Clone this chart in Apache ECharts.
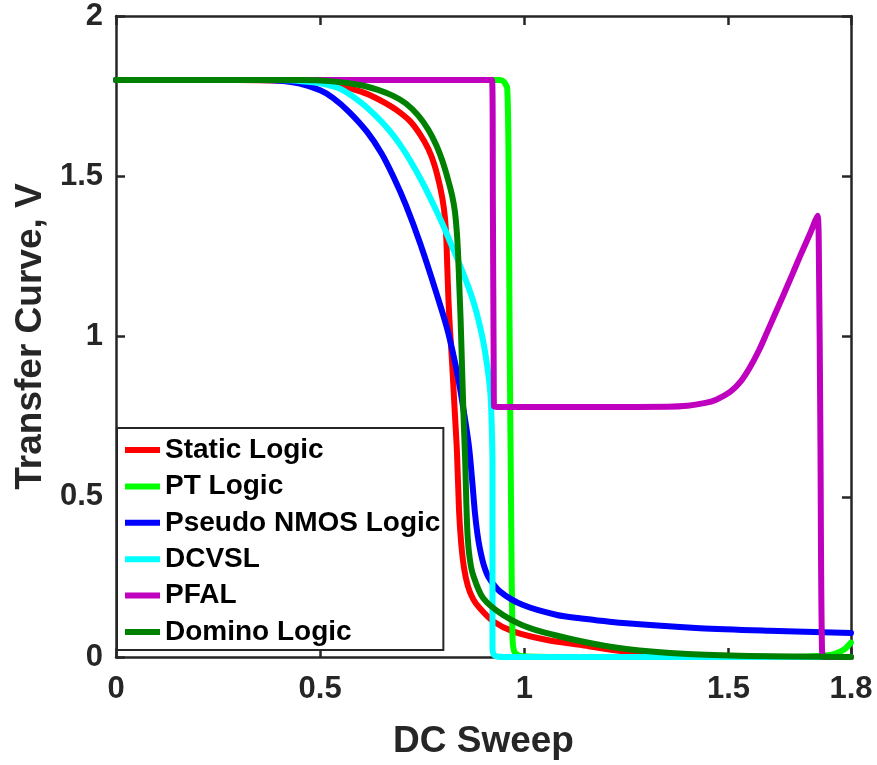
<!DOCTYPE html>
<html>
<head>
<meta charset="utf-8">
<script src="https://cdn.jsdelivr.net/npm/echarts@6/dist/echarts.min.js"></script>
<style>html,body{margin:0;padding:0;background:#fff;}#chart{width:877px;height:765px;}</style>
</head>
<body>
<div id="chart"></div>
<script>
// Series names
const seriesNames = ['Static Logic', 'PT Logic', 'Pseudo NMOS Logic', 'DCVSL', 'PFAL', 'Domino Logic'];

// Data as [DC sweep, transfer value] pairs
const staticLogic = [[0,1.8],[0.3,1.8],[0.4,1.799],[0.45,1.797],[0.5,1.792],[0.55,1.782],[0.6,1.764],[0.63,1.748],[0.66,1.728],[0.69,1.704],[0.72,1.672],[0.745,1.63],[0.765,1.585],[0.78,1.535],[0.794,1.465],[0.803,1.4],[0.808,1.33],[0.811,1.23],[0.814,1.12],[0.818,1.02],[0.823,0.92],[0.829,0.78],[0.835,0.64],[0.84,0.46],[0.845,0.36],[0.852,0.28],[0.862,0.22],[0.875,0.18],[0.891,0.152],[0.923,0.112],[0.972,0.08],[1.056,0.053],[1.136,0.038],[1.2,0.025],[1.3,0.01],[1.4,0.004],[1.5,0.001],[1.8,0]];
const ptLogic = [[0,1.8],[0.94,1.8],[0.95,1.795],[0.958,1.775],[0.961,1.6],[0.964,1.0],[0.968,0.4],[0.971,0.06],[0.976,0.015],[0.99,0.003],[1.1,0],[1.65,0],[1.72,0.003],[1.76,0.01],[1.785,0.025],[1.8,0.045]];
const pseudoNmos = [[0,1.8],[0.35,1.8],[0.4,1.798],[0.45,1.789],[0.5,1.768],[0.532,1.744],[0.57,1.702],[0.614,1.64],[0.65,1.572],[0.68,1.497],[0.71,1.41],[0.745,1.29],[0.786,1.13],[0.813,1.015],[0.838,0.87],[0.855,0.74],[0.865,0.65],[0.873,0.54],[0.879,0.45],[0.885,0.385],[0.891,0.339],[0.9,0.29],[0.912,0.25],[0.94,0.205],[0.997,0.162],[1.08,0.131],[1.136,0.121],[1.25,0.105],[1.43,0.09],[1.6,0.082],[1.8,0.075]];
const dcvsl = [[0,1.8],[0.4,1.8],[0.45,1.797],[0.5,1.79],[0.55,1.772],[0.6,1.73],[0.64,1.684],[0.67,1.642],[0.696,1.598],[0.72,1.55],[0.75,1.482],[0.78,1.405],[0.8,1.35],[0.82,1.29],[0.84,1.23],[0.86,1.165],[0.875,1.11],[0.888,1.05],[0.9,0.98],[0.91,0.9],[0.917,0.82],[0.92,0.73],[0.922,0.6],[0.922,0.3],[0.922,0.03],[0.927,0.005],[0.95,0],[1.8,0]];
const pfal = [[0,1.8],[0.921,1.8],[0.923,1.4],[0.925,0.9],[0.926,0.781],[0.95,0.78],[1.2,0.78],[1.35,0.781],[1.4,0.784],[1.44,0.792],[1.47,0.803],[1.504,0.827],[1.53,0.86],[1.553,0.905],[1.575,0.958],[1.594,1.012],[1.614,1.07],[1.634,1.128],[1.655,1.19],[1.675,1.25],[1.7,1.322],[1.712,1.36],[1.718,1.377],[1.721,1.3],[1.725,0.7],[1.729,0.02],[1.735,0],[1.8,0]];
const dominoLogic = [[0,1.8],[0.45,1.8],[0.53,1.796],[0.6,1.784],[0.64,1.77],[0.68,1.75],[0.71,1.727],[0.74,1.69],[0.765,1.645],[0.785,1.595],[0.8,1.545],[0.813,1.49],[0.823,1.44],[0.83,1.39],[0.835,1.32],[0.838,1.25],[0.841,1.15],[0.844,1.05],[0.848,0.88],[0.852,0.72],[0.855,0.62],[0.858,0.48],[0.861,0.38],[0.866,0.31],[0.874,0.258],[0.899,0.184],[0.948,0.131],[1.014,0.09],[1.136,0.05],[1.25,0.025],[1.4,0.009],[1.55,0.003],[1.8,0]];

const seriesData = [staticLogic, ptLogic, pseudoNmos, dcvsl, pfal, dominoLogic];
const seriesColors = ['#ff0000', '#00ff00', '#0000ff', '#00ffff', '#bf00bf', '#008000'];
const seriesSmooth = [0.3, 0.2, 0.3, 0.3, 0.3, 0.3];

// Axis settings
const xMin = 0, xMax = 1.8, xInterval = 0.5;
const yMin = 0, yMax = 2, yInterval = 0.5;
const xTitle = 'DC Sweep';
const yTitle = 'Transfer Curve, V';

const axisColor = '#262626';
const fontFam = '"Liberation Sans", Arial, sans-serif';

const chart = echarts.init(document.getElementById('chart'), null, {renderer: 'canvas'});

const baseAxis = {
  axisLine: {show: true, onZero: false, lineStyle: {color: axisColor, width: 2.5}},
  axisTick: {show: true, inside: true, length: 9, lineStyle: {color: axisColor, width: 2.5}},
  splitLine: {show: false}
};

const option = {
  backgroundColor: '#ffffff',
  animation: false,
  grid: {left: 116, right: 26, top: 16, bottom: 106, containLabel: false},
  legend: {
    orient: 'vertical',
    left: 117, top: 428,
    data: seriesNames,
    icon: 'rect',
    itemWidth: 35, itemHeight: 6,
    itemGap: 8.4,
    padding: [8, 3, 4, 8],
    borderColor: axisColor, borderWidth: 2,
    backgroundColor: '#ffffff',
    textStyle: {fontFamily: fontFam, fontWeight: 'bold', fontSize: 28, color: '#000', lineHeight: 28}
  },
  xAxis: [
    Object.assign({}, baseAxis, {
      type: 'value', position: 'bottom', min: xMin, max: xMax, interval: xInterval,
      name: xTitle, nameLocation: 'middle', nameGap: 66,
      nameTextStyle: {fontFamily: fontFam, fontWeight: 'bold', fontSize: 37, color: axisColor},
      axisLabel: {show: true, margin: 17, fontFamily: fontFam, fontWeight: 'bold', fontSize: 31, color: axisColor, showMaxLabel: true, showMinLabel: true}
    }),
    Object.assign({}, baseAxis, {
      type: 'value', position: 'top', min: xMin, max: xMax, interval: xInterval,
      axisLabel: {show: false}
    })
  ],
  yAxis: [
    Object.assign({}, baseAxis, {
      type: 'value', position: 'left', min: yMin, max: yMax, interval: yInterval,
      name: yTitle, nameLocation: 'middle', nameGap: 64,
      nameTextStyle: {fontFamily: fontFam, fontWeight: 'bold', fontSize: 37, color: axisColor},
      axisLabel: {show: true, margin: 13, fontFamily: fontFam, fontWeight: 'bold', fontSize: 31, color: axisColor}
    }),
    Object.assign({}, baseAxis, {
      type: 'value', position: 'right', min: yMin, max: yMax, interval: yInterval,
      axisLabel: {show: false}
    })
  ],
  series: seriesNames.map((name, i) => ({
    name: name,
    type: 'line',
    xAxisIndex: 0, yAxisIndex: 0,
    data: seriesData[i],
    showSymbol: false,
    symbol: 'none',
    smooth: seriesSmooth[i],
    lineStyle: {color: seriesColors[i], width: 6, cap: 'round', join: 'round'},
    itemStyle: {color: seriesColors[i]},
    emphasis: {disabled: true},
    z: 2 + i
  }))
};

chart.setOption(option);
</script>
</body>
</html>
